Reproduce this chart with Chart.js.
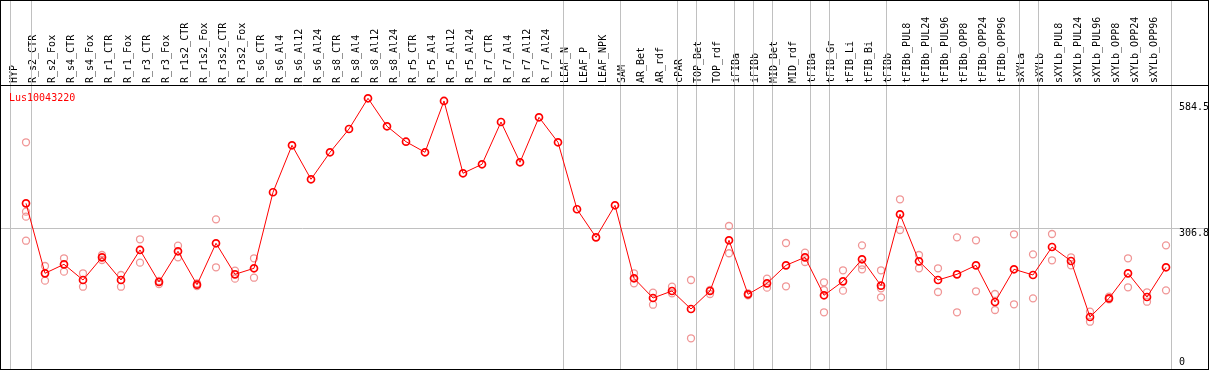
<!DOCTYPE html>
<html>
<head>
<meta charset="utf-8">
<title>Lus10043220</title>
<script src="https://cdn.jsdelivr.net/npm/chart.js@4.4.1/dist/chart.umd.min.js"></script>
<style>
  html, body { margin: 0; padding: 0; background: #fff; }
  canvas { display: block; }
</style>
</head>
<body>
<canvas id="chart" width="1209" height="370"></canvas>
<script>
// Sample names along the top
const categories = [
    'HYP',
    'R_s2_CTR', 'R_s2_Fox', 'R_s4_CTR', 'R_s4_Fox', 'R_r1_CTR', 'R_r1_Fox',
    'R_r3_CTR', 'R_r3_Fox', 'R_r1s2_CTR', 'R_r1s2_Fox', 'R_r3s2_CTR', 'R_r3s2_Fox',
    'R_s6_CTR', 'R_s6_Al4', 'R_s6_Al12', 'R_s6_Al24',
    'R_s8_CTR', 'R_s8_Al4', 'R_s8_Al12', 'R_s8_Al24',
    'R_r5_CTR', 'R_r5_Al4', 'R_r5_Al12', 'R_r5_Al24',
    'R_r7_CTR', 'R_r7_Al4', 'R_r7_Al12', 'R_r7_Al24',
    'LEAF_N', 'LEAF_P', 'LEAF_NPK',
    'SAM', 'AR_Bet', 'AR_rdf', 'cPAR', 'TOP_Bet', 'TOP_rdf', 'iFIBa', 'iFIBb',
    'MID_Bet', 'MID_rdf', 'tFIBa', 'tFIB_Gr', 'tFIB_Li', 'tFIB_Bi',
    'tFIBb', 'tFIBb_PUL8', 'tFIBb_PUL24', 'tFIBb_PUL96', 'tFIBb_OPP8', 'tFIBb_OPP24', 'tFIBb_OPP96',
    'sXYLa', 'sXYLb', 'sXYLb_PUL8', 'sXYLb_PUL24', 'sXYLb_PUL96', 'sXYLb_OPP8', 'sXYLb_OPP24', 'sXYLb_OPP96'
];

// Mean expression per sample
const meanValues = [
    362.2,
    207.4, 227.3, 192.6, 242.8, 192.6, 259.0,
    188.2, 256.1, 182.2, 273.8, 205.2, 218.5,
    386.6, 490.5, 415.3, 475.0,
    526.5, 594.4, 532.5, 498.4,
    475.0, 588.5, 428.6, 448.5,
    542.0, 452.9, 552.4, 497.1,
    349.0, 287.0, 357.8,
    196.4, 152.8, 168.3, 128.5, 168.3, 280.4, 161.0, 185.3,
    225.1, 242.8, 158.8, 189.7, 238.4, 180.0,
    337.9, 234.0, 192.6, 205.2, 225.1, 144.0, 216.3,
    203.7, 265.6, 234.6, 110.8, 152.1, 207.4, 155.0, 220.7
];

// Individual replicates per sample (empty where only the mean is shown)
const replicateValues = [
    [497.1, 343.7, 332.6, 279.5],
    [223.6, 191.1], [240.6, 211.0], [207.4, 177.8], [247.9, 236.8], [203.7, 177.8], [282.6, 230.9],
    [190.4, 183.8], [268.5, 242.8], [185.3, 179.3], [326.8, 220.7], [213.2, 195.5], [240.6, 197.7],
    [], [], [], [],
    [], [], [], [],
    [], [], [], [],
    [], [], [], [],
    [], [], [],
    [207.4, 185.3], [164.5, 138.0], [177.8, 163.2], [192.6, 63.7], [170.5, 161.7], [312.0, 251.7],
    [163.2, 158.8], [195.5, 175.6],
    [274.4, 178.7], [253.0, 232.4], [187.5, 170.5, 121.2], [214.1, 169.0],
    [269.3, 225.8, 216.3], [214.1, 174.3, 154.4],
    [371.1, 303.2], [247.9, 218.5], [218.5, 166.1], [287.0, 121.2], [280.4, 167.6], [161.7, 126.3], [293.7, 138.9],
    [249.4, 152.1], [294.3, 236.2], [242.8, 225.1], [122.5, 100.4], [155.7, 149.9], [240.6, 176.5], [165.4, 144.6], [269.3, 169.8]
];

// Labels on the right-hand side
const yTicks = [0, 306.8, 584.5];

// Index of the last sample in each group (a separator follows it)
const groupEnds = [0, 28, 31, 34, 35, 37, 38, 39, 41, 42, 45, 52, 53, 60];

const seriesName = 'Lus10043220';

const MONO = '"DejaVu Sans Mono", "Liberation Mono", monospace';
const HEADER = 85;

const framePlugin = {
    id: 'frame',
    beforeDatasetsDraw(chart) {
        const { ctx, scales: { x, y } } = chart;
        const W = chart.width, H = chart.height;
        const step = x.getPixelForValue(1) - x.getPixelForValue(0);
        ctx.save();
        ctx.strokeStyle = '#c0c0c0';
        ctx.lineWidth = 1;

        // horizontal reference line
        const gy = Math.round(y.getPixelForValue(yTicks[1])) + 0.5;
        ctx.beginPath();
        ctx.moveTo(1, gy);
        ctx.lineTo(W - 1, gy);
        ctx.stroke();

        // group separators
        const seps = [x.getPixelForValue(0) - 16].concat(groupEnds.map(i => x.getPixelForValue(i) + step / 4));
        seps.forEach(px => {
            const sx = Math.round(px) + 0.5;
            ctx.beginPath();
            ctx.moveTo(sx, 1);
            ctx.lineTo(sx, H - 1);
            ctx.stroke();
        });
        ctx.restore();
    },
    afterDraw(chart) {
        const { ctx, scales: { x, y } } = chart;
        const W = chart.width, H = chart.height;
        ctx.save();
        ctx.strokeStyle = '#000';
        ctx.lineWidth = 1;
        ctx.strokeRect(0.5, 0.5, W - 1, H - 1);
        ctx.beginPath();
        ctx.moveTo(0, HEADER + 0.5);
        ctx.lineTo(W, HEADER + 0.5);
        ctx.stroke();

        ctx.font = '10px ' + MONO;
        ctx.textBaseline = 'alphabetic';
        ctx.textAlign = 'left';

        // value labels on the right
        ctx.fillStyle = '#000';
        const lx = x.getPixelForValue(categories.length - 1) + 13;
        yTicks.forEach(v => {
            const by = Math.min(y.getPixelForValue(v) + 7.5, H - 5);
            ctx.fillText(String(v), lx, by);
        });

        // series name
        ctx.fillStyle = '#ff0000';
        ctx.fillText(seriesName, 9, 100.5);
        ctx.restore();
    }
};

const replicatePoints = replicateValues.flatMap((vals, i) =>
    vals.map(v => ({ x: categories[i], y: v }))
);

new Chart(document.getElementById('chart'), {
    type: 'line',
    data: {
        labels: categories,
        datasets: [
            {
                label: seriesName,
                data: meanValues,
                borderColor: '#ff0000',
                borderWidth: 1,
                tension: 0,
                pointRadius: 3.5,
                pointBorderWidth: 1.7,
                pointBorderColor: '#ff0000',
                pointBackgroundColor: 'rgba(0,0,0,0)'
            },
            {
                label: 'replicates',
                data: replicatePoints,
                showLine: false,
                pointRadius: 3.5,
                pointBorderWidth: 1.3,
                pointBorderColor: 'rgb(240,150,150)',
                pointBackgroundColor: 'rgba(0,0,0,0)'
            }
        ]
    },
    options: {
        responsive: false,
        devicePixelRatio: 1,
        animation: false,
        events: [],
        layout: { autoPadding: false, padding: { left: 16.5, right: 33.5, top: 0, bottom: 1 } },
        plugins: { legend: { display: false }, tooltip: { enabled: false } },
        scales: {
            x: {
                position: 'top',
                offset: true,
                grid: { display: false, drawTicks: false },
                border: { display: false },
                ticks: {
                    autoSkip: false,
                    minRotation: 90,
                    maxRotation: 90,
                    padding: 2,
                    color: '#000',
                    font: { family: MONO, size: 10 }
                },
                afterFit(scale) { scale.height = HEADER; }
            },
            y: {
                display: false,
                min: -4.2,
                max: 623.8
            }
        }
    },
    plugins: [framePlugin]
});
</script>
</body>
</html>
